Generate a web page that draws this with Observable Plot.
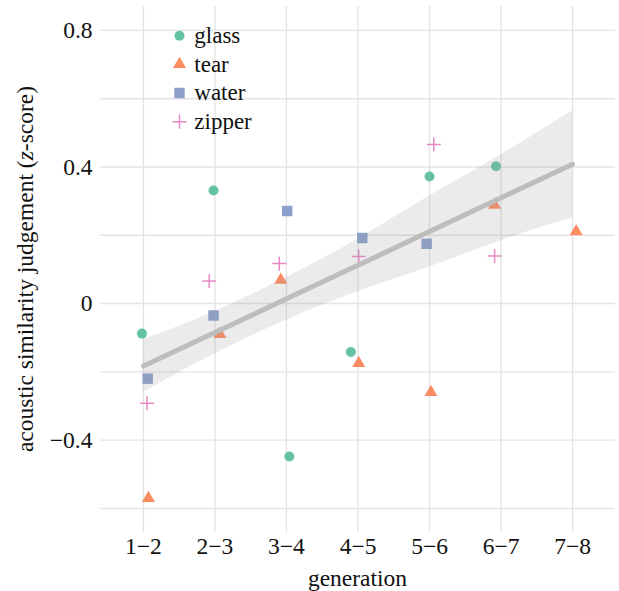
<!DOCTYPE html>
<html><head><meta charset="utf-8">
<script src="https://cdn.jsdelivr.net/npm/d3@7"></script>
<script src="https://cdn.jsdelivr.net/npm/@observablehq/plot@0.6"></script>
<style>
body{margin:0;background:#fff}
#chart{position:relative;width:619px;height:591px}
#chart svg, #chart svg text{font-family:"Liberation Serif","Times New Roman",serif !important}
</style>
</head><body><div id="chart"></div>
<script>
// ---- data ----
const generations = ["1\u22122","2\u22123","3\u22124","4\u22125","5\u22126","6\u22127","7\u22128"];
const generationIndex = [1,2,3,4,5,6,7];
const categories = ["glass","tear","water","zipper"];
const categoryColors = ["#66c2a5","#fc8d62","#8da0cb","#e78ac3"];
const categorySymbols = ["circle","triangle","square","plus"];

// points: generation index, category, horizontal jitter (in generation units), value
const pointGen    = [1,1,1,1, 2,2,2,2, 3,3,3,3, 4,4,4,4, 5,5,5,5, 6,6,6, 7];
const pointCat    = ["glass","water","zipper","tear",
                     "glass","zipper","water","tear",
                     "water","zipper","tear","glass",
                     "water","zipper","glass","tear",
                     "zipper","glass","water","tear",
                     "glass","tear","zipper",
                     "tear"];
const pointJitter = [-0.02,0.06,0.05,0.07,
                     -0.02,-0.08,-0.02,0.07,
                      0.01,-0.10,-0.08,0.04,
                      0.06,0.01,-0.10,0.01,
                      0.06,0.00,-0.04,0.02,
                     -0.07,-0.09,-0.09,
                      0.05];
const pointValue  = [-0.088,-0.220,-0.292,-0.570,
                      0.331,0.066,-0.035,-0.090,
                      0.271,0.117,0.069,-0.448,
                      0.192,0.138,-0.142,-0.175,
                      0.466,0.372,0.175,-0.260,
                      0.402,0.289,0.139,
                      0.211];

// fitted linear trend with 95% band, read at each generation
const fitValue = [-0.183,-0.085,0.014,0.112,0.211,0.310,0.408];
const fitLower = [-0.260,-0.147,-0.049,0.035,0.107,0.184,0.251];
const fitUpper = [-0.106,-0.023,0.076,0.189,0.315,0.436,0.565];

const yTicks = [-0.4,0,0.4,0.8];
const yGrid  = [-0.6,-0.4,-0.2,0,0.2,0.4,0.6,0.8];

// ---- build ----
const pts = pointGen.map((g,i)=>({x:g+pointJitter[i], y:pointValue[i], cat:pointCat[i]}));
const fit = generationIndex.map((g,i)=>({x:g, y:fitValue[i], lo:fitLower[i], hi:fitUpper[i]}));
const radii = [5,4.85,5.9,4.6];
const font = "'Liberation Serif', 'Times New Roman', serif";
const ink = "#111";
const fs = 23.5;

const dotMarks = categories.map((c,i)=>{
  const stroked = categorySymbols[i]==="plus";
  return Plot.dot(pts.filter(d=>d.cat===c), {
    x:"x", y:"y", symbol: categorySymbols[i], r: radii[i],
    fill: stroked ? "none" : categoryColors[i],
    stroke: stroked ? categoryColors[i] : "none",
    strokeWidth: stroked ? 1.5 : 0
  });
});

const fmtY = v => v === 0 ? "0" : (v < 0 ? "\u2212" : "") + Math.abs(v);

const plot = Plot.plot({
  width:619, height:591,
  marginLeft:100, marginRight:4, marginTop:6, marginBottom:59,
  style:{fontSize:fs+"px", color:ink, background:"#fff", overflow:"visible"},
  x:{domain:[0.4,7.6]},
  y:{domain:[-0.6705,0.870]},
  marks:[
    Plot.gridY(yGrid, {stroke:"#e4e4e4", strokeOpacity:1, strokeWidth:1.4}),
    Plot.gridX(generationIndex, {stroke:"#e4e4e4", strokeOpacity:1, strokeWidth:1.4}),
    Plot.axisY(yTicks, {tickSize:0, tickPadding:8, label:null, fontSize:fs, tickFormat:fmtY}),
    Plot.axisX(generationIndex, {tickSize:0, tickPadding:5, label:null, fontSize:fs,
      tickFormat: g => generations[g-1]}),
    ...dotMarks,
    Plot.areaY(fit, {x:"x", y1:"lo", y2:"hi", fill:"#999999", fillOpacity:0.2, curve:"natural"}),
    Plot.line(fit, {x:"x", y:"y", stroke:"#bdbdbd", strokeWidth:5})
  ]
});

const svg = d3.select(plot);
svg.style("font-family", font);
// axis titles
svg.append("text")
  .attr("x", 357.5).attr("y", 586)
  .attr("text-anchor","middle")
  .style("font-size",fs+"px").attr("fill",ink)
  .text("generation");
const yl = svg.append("text")
  .attr("transform","translate(33,269) rotate(-90)")
  .attr("text-anchor","middle")
  .style("font-size",fs+"px").attr("fill",ink);
yl.append("tspan").text("acoustic similarity judgement (");
yl.append("tspan").attr("font-style","italic").text("z");
yl.append("tspan").text("-score)");

// legend
const symMap = {circle:d3.symbolCircle, triangle:d3.symbolTriangle, square:d3.symbolSquare, plus:d3.symbolPlus};
const lg = svg.append("g");
categories.forEach((c,i)=>{
  const cy = 35.7 + i*28.65;
  const stroked = categorySymbols[i]==="plus";
  lg.append("path")
    .attr("transform",`translate(179.5,${cy})`)
    .attr("d", d3.symbol(symMap[categorySymbols[i]], Math.PI*radii[i]*radii[i])())
    .attr("fill", stroked ? "none" : categoryColors[i])
    .attr("stroke", stroked ? categoryColors[i] : "none")
    .attr("stroke-width", stroked ? 1.5 : 0);
  lg.append("text")
    .attr("x",194.3).attr("y",cy).attr("dy","0.32em")
    .attr("text-anchor","start")
    .style("font-size","23px").attr("fill",ink)
    .text(c);
});

document.getElementById("chart").appendChild(plot);
</script>
</body></html>
